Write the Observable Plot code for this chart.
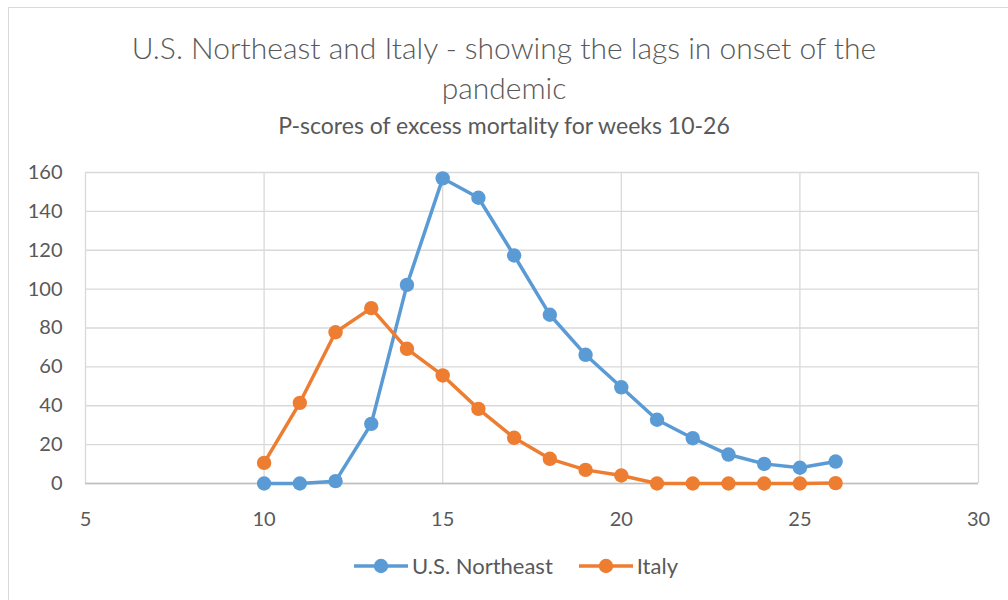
<!DOCTYPE html>
<html>
<head>
<meta charset="utf-8">
<script src="https://cdn.jsdelivr.net/npm/d3@7"></script>
<script src="https://cdn.jsdelivr.net/npm/@observablehq/plot@0.6"></script>
<style>
  html, body { margin: 0; padding: 0; background: #fff; }
  body { width: 1008px; height: 600px; position: relative; overflow: hidden; font-family: Lato, "Noto Sans", sans-serif; color: #595959; }
  #frame { position: absolute; left: 8px; top: 7px; width: 1010px; height: 610px; border: 1px solid #d9d9d9; box-sizing: border-box; }
  #title { position: absolute; left: 0; width: 1008px; top: 27px; text-align: center; font-size: 30px; line-height: 40px; font-weight: 300; }
  #subtitle { position: absolute; left: 0; width: 1008px; top: 111px; text-align: center; font-size: 23px; line-height: 28px; font-weight: 400; }
  #chart { position: absolute; left: 0; top: 150px; }
  #chart svg text { font-size: 20px; }
  #legend { position: absolute; left: 12px; width: 1008px; top: 552px; display: flex; justify-content: center; align-items: center; gap: 0; font-size: 22px; }
  .item { display: flex; align-items: center; margin: 0 13px; }
  .item svg { margin-right: 4px; }
</style>
</head>
<body>
<div id="frame"></div>
<div id="title">U.S. Northeast and Italy - showing the lags in onset of the<br>pandemic</div>
<div id="subtitle">P-scores of excess mortality for weeks 10-26</div>
<div id="chart"></div>
<div id="legend"></div>
<script>
const weeks = [10, 11, 12, 13, 14, 15, 16, 17, 18, 19, 20, 21, 22, 23, 24, 25, 26];
const northeast = [0, 0, 1.2, 30.7, 102.2, 157, 147, 117.3, 86.8, 66.2, 49.5, 32.8, 23.3, 14.9, 10.1, 8.1, 11.3];
const italy = [10.6, 41.5, 77.8, 90.2, 69.3, 55.6, 38.4, 23.5, 12.7, 7.0, 4.1, 0, 0, 0, 0, 0, 0.2];
const seriesNames = ["U.S. Northeast", "Italy"];
const seriesColors = ["#5B9BD5", "#ED7D31"];
const xTicks = [5, 10, 15, 20, 25, 30];
const yTicks = [0, 20, 40, 60, 80, 100, 120, 140, 160];

const rows = [];
weeks.forEach((w, i) => {
  rows.push({week: w, value: northeast[i], series: seriesNames[0]});
});
weeks.forEach((w, i) => {
  rows.push({week: w, value: italy[i], series: seriesNames[1]});
});

const chart = Plot.plot({
  width: 1008,
  height: 380,
  marginLeft: 85,
  marginRight: 30,
  marginTop: 22,
  marginBottom: 47,
  style: {fontFamily: "Lato, 'Noto Sans', sans-serif", fontSize: "20px", color: "#595959", background: "transparent"},
  x: {domain: [5, 30], ticks: xTicks, tickSize: 0, tickPadding: 28, label: null},
  y: {domain: [0, 160], ticks: yTicks, tickSize: 0, tickPadding: 23, label: null},
  color: {domain: seriesNames, range: seriesColors},
  marks: [
    Plot.gridX(xTicks, {stroke: "#d9d9d9", strokeOpacity: 1, strokeWidth: 1.3}),
    Plot.gridY(yTicks, {stroke: "#d9d9d9", strokeOpacity: 1, strokeWidth: 1.3}),
    Plot.ruleY([0], {stroke: "#bfbfbf", strokeWidth: 1.3}),
    Plot.axisX({ticks: xTicks, tickSize: 0, tickPadding: 28, fill: "#595959"}),
    Plot.axisY({ticks: yTicks, tickSize: 0, tickPadding: 23, fill: "#595959"}),
    Plot.line(rows, {x: "week", y: "value", z: "series", stroke: "series", strokeWidth: 3.5}),
    Plot.dot(rows, {x: "week", y: "value", fill: "series", r: 7.2})
  ]
});
document.getElementById("chart").appendChild(chart);

const legend = document.getElementById("legend");
seriesNames.forEach((name, i) => {
  const item = document.createElement("div");
  item.className = "item";
  item.innerHTML = `<svg width="54" height="16"><line x1="0" y1="8" x2="54" y2="8" stroke="${seriesColors[i]}" stroke-width="3.5"/><circle cx="27" cy="8" r="7.2" fill="${seriesColors[i]}"/></svg><span>${name}</span>`;
  legend.appendChild(item);
});
</script>
</body>
</html>
